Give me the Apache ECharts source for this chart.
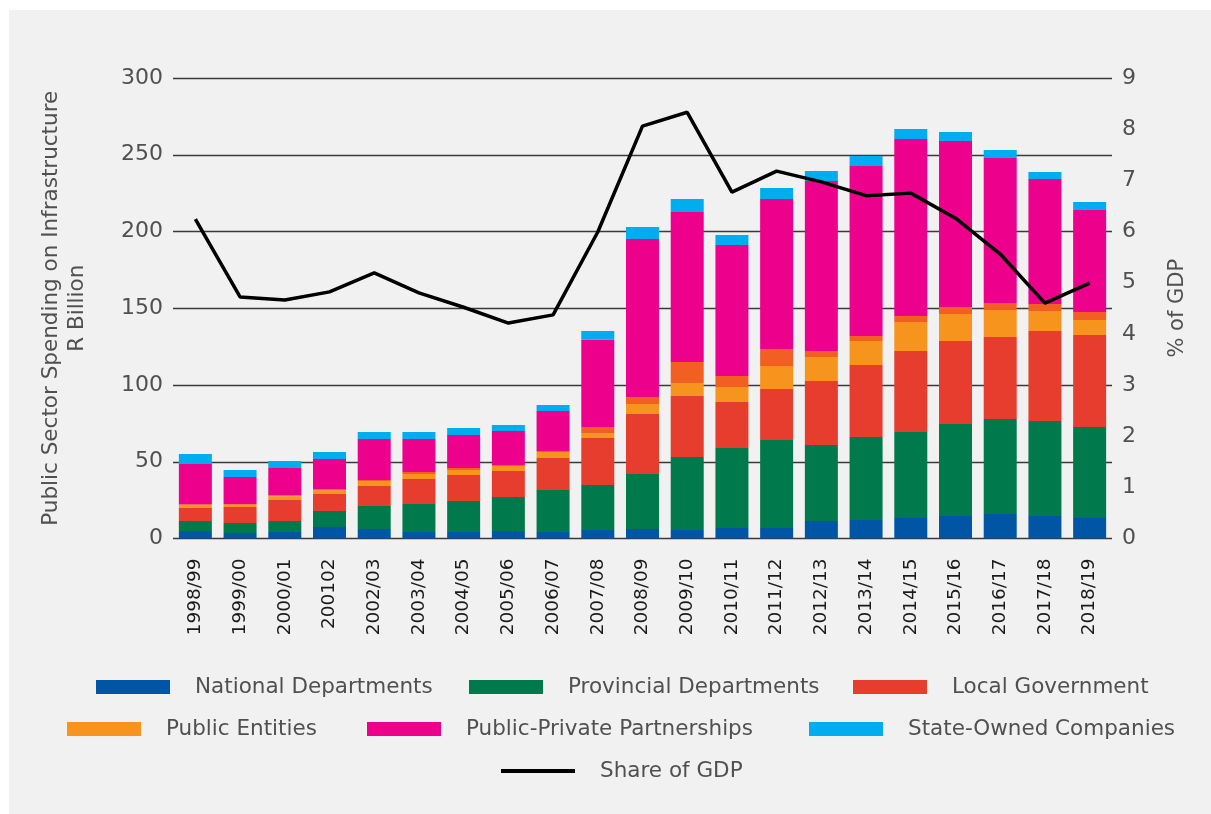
<!DOCTYPE html>
<html>
<head>
<meta charset="utf-8">
<script src="https://cdn.jsdelivr.net/npm/echarts@6/dist/echarts.min.js"></script>
<style>
html,body{margin:0;padding:0;background:#ffffff;}
#chart{width:1211px;height:814px;}
</style>
</head>
<body>
<div id="chart"></div>
<script>
var categories = ['1998/99','1999/00','2000/01','200102','2002/03','2003/04','2004/05','2005/06','2006/07','2007/08','2008/09','2009/10','2010/11','2011/12','2012/13','2013/14','2014/15','2015/16','2016/17','2017/18','2018/19'];
var nationalDepartments = [4.9,3.6,4.2,7.5,6.2,4.2,4.2,4.9,4.2,5.5,6.2,5.5,6.8,6.8,11.4,12.1,13.4,14.7,16.0,14.7,13.4];
var provincialDepartments = [6.5,6.5,7.2,10.4,15.0,18.3,20.2,22.1,27.4,29.4,35.8,47.6,52.2,57.4,49.5,54.0,56.0,59.9,61.9,61.8,59.2];
var localGovernment = [8.5,10.4,13.7,11.1,13.0,16.3,17.0,17.0,20.8,30.6,39.1,39.7,29.9,33.2,41.7,46.9,52.7,54.1,53.4,58.7,60.0];
var publicEntities = [1.9,1.5,2.4,2.4,3.3,3.2,3.2,3.2,4.0,3.2,6.5,8.5,9.8,15.0,15.6,15.7,18.9,17.6,17.6,13.0,9.7];
var otherUnlabelled = [0.5,0.5,0.6,0.6,0.6,1.3,1.3,0.7,0.6,3.9,4.6,13.7,7.2,11.1,3.9,3.2,4.0,4.5,4.5,4.6,5.3];
var publicPrivatePartnerships = [26.2,17.6,17.8,19.8,26.7,21.5,21.5,22.1,26.1,56.9,102.9,97.7,85.3,97.7,110.8,110.8,115.3,108.2,94.5,81.4,66.4];
var stateOwnedCompanies = [6.5,4.5,4.6,4.6,4.6,4.6,4.6,3.9,3.9,5.7,7.8,8.5,6.5,7.1,6.5,6.5,6.5,5.8,5.2,4.6,5.2];
var shareOfGDP = [6.24,4.72,4.66,4.82,5.19,4.80,4.52,4.21,4.37,5.99,8.06,8.33,6.77,7.18,6.97,6.70,6.75,6.26,5.56,4.60,4.99];
var leftTicks = [0,50,100,150,200,250,300];
var rightTicks = [0,1,2,3,4,5,6,7,8,9];

var FONT = 'DejaVu Sans';
var TXT = '#505050';

function bar(name, data, color) {
  return {
    name: name, type: 'bar', stack: 'total', data: data,
    barWidth: 33, itemStyle: {color: color}, emphasis: {disabled: true}
  };
}
function leg(name, left, top, isLine) {
  return {
    data: [{name: name, icon: 'rect'}],
    left: left, top: top, padding: 0,
    itemWidth: 74, itemHeight: isLine ? 4 : 14,
    selectedMode: false,
    textStyle: {fontFamily: FONT, fontSize: 21.5, color: TXT, padding: [0, 0, 0, 20]}
  };
}

var chart = echarts.init(document.getElementById('chart'), null, {renderer: 'canvas'});
chart.setOption({
  backgroundColor: '#ffffff',
  animation: false,
  graphic: [{type: 'rect', z: -10, silent: true, shape: {x: 9, y: 10, width: 1202, height: 804}, style: {fill: '#f1f1f1'}}],
  legend: [
    leg('National Departments', 96, 676),
    leg('Provincial Departments', 469, 676),
    leg('Local Government', 853, 676),
    leg('Public Entities', 67, 718),
    leg('Public-Private Partnerships', 367, 718),
    leg('State-Owned Companies', 809, 718),
    leg('Share of GDP', 501, 760, true)
  ],
  grid: {left: 173, right: 99, top: 78, bottom: 275.5, containLabel: false},
  xAxis: {
    type: 'category', data: categories, boundaryGap: true,
    axisLine: {show: false}, axisTick: {show: false},
    axisLabel: {rotate: 90, margin: 20, fontFamily: FONT, fontSize: 18.5, color: '#1a1a1a', interval: 0}
  },
  yAxis: [
    {
      type: 'value', min: leftTicks[0], max: leftTicks[leftTicks.length - 1], interval: 50,
      name: 'Public Sector Spending on Infrastructure\nR Billion', nameLocation: 'middle', nameGap: 83,
      nameTextStyle: {fontFamily: FONT, fontSize: 21.5, color: TXT, lineHeight: 26, align: 'center'},
      axisLine: {show: false}, axisTick: {show: false},
      axisLabel: {margin: 10, fontFamily: FONT, fontSize: 22, color: TXT},
      splitLine: {show: true, lineStyle: {color: '#3a3a3a', width: 1.3}}
    },
    {
      type: 'value', min: rightTicks[0], max: rightTicks[rightTicks.length - 1], interval: 1,
      name: '% of GDP', nameLocation: 'middle', nameGap: 55, nameRotate: 90,
      nameTextStyle: {fontFamily: FONT, fontSize: 21, color: TXT},
      axisLine: {show: false}, axisTick: {show: false},
      axisLabel: {margin: 10, fontFamily: FONT, fontSize: 22, color: TXT},
      splitLine: {show: false}
    }
  ],
  series: [
    bar('National Departments', nationalDepartments, '#0055a5'),
    bar('Provincial Departments', provincialDepartments, '#00794d'),
    bar('Local Government', localGovernment, '#e63d2f'),
    bar('Public Entities', publicEntities, '#f7941e'),
    bar('Other', otherUnlabelled, '#f15f22'),
    bar('Public-Private Partnerships', publicPrivatePartnerships, '#ec008c'),
    bar('State-Owned Companies', stateOwnedCompanies, '#00aeef'),
    {
      name: 'Share of GDP', type: 'line', yAxisIndex: 1, data: shareOfGDP,
      symbol: 'none', lineStyle: {color: '#000000', width: 3.5}, itemStyle: {color: '#000000'},
      z: 5, emphasis: {disabled: true}
    }
  ]
});
</script>
</body>
</html>
